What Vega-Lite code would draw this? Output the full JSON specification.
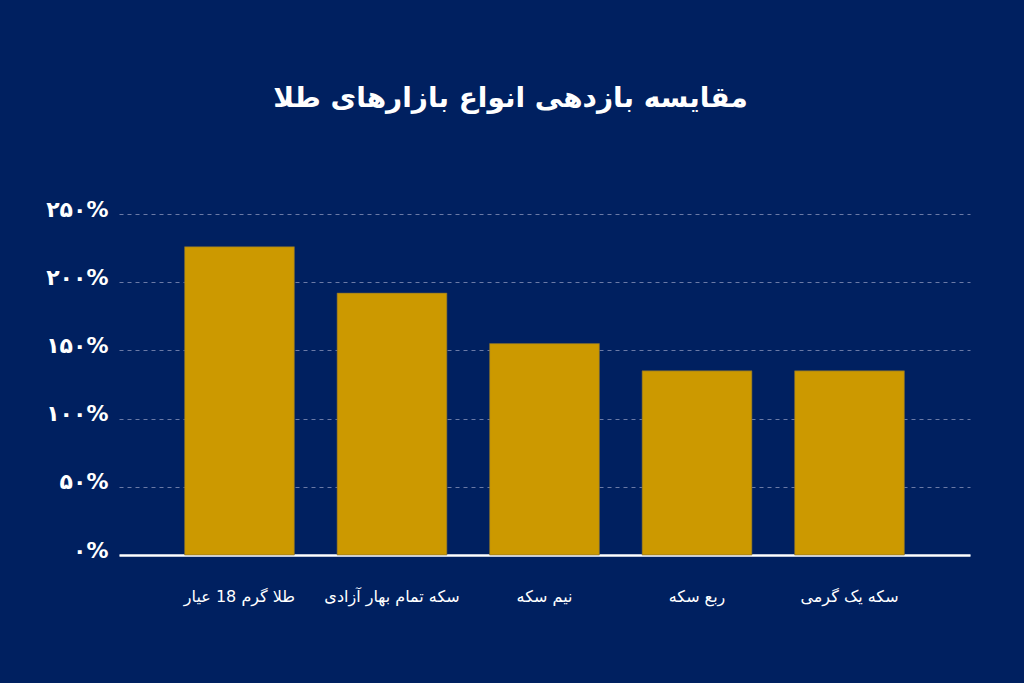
{
  "$schema": "https://vega.github.io/schema/vega-lite/v6.json",
  "width": 851,
  "height": 341,
  "autosize": "none",
  "padding": {"left": 119, "top": 214, "right": 54, "bottom": 128},
  "background": "#002060",
  "title": {
    "text": "مقایسه بازدهی انواع بازارهای طلا",
    "color": "#ffffff",
    "font": "DejaVu Sans",
    "fontSize": 28,
    "fontWeight": "bold",
    "anchor": "middle",
    "frame": "group",
    "dx": -34,
    "offset": 85
  },
  "data": {
    "values": [
      {"market": "طلا گرم 18 عیار", "return": 226},
      {"market": "سکه تمام بهار آزادی", "return": 192},
      {"market": "نیم سکه", "return": 155},
      {"market": "ربع سکه", "return": 135},
      {"market": "سکه یک گرمی", "return": 135}
    ]
  },
  "mark": {"type": "bar", "color": "#cc9900", "stroke": "#7a6a3a", "strokeWidth": 0.6},
  "encoding": {
    "x": {
      "field": "market",
      "type": "nominal",
      "sort": null,
      "scale": {"paddingInner": 0.28, "paddingOuter": 0.43},
      "axis": {
        "title": null,
        "labelAngle": 0,
        "labelColor": "#ffffff",
        "labelFont": "DejaVu Sans",
        "labelFontSize": 16,
        "labelPadding": 33,
        "ticks": false,
        "domainColor": "#ffffff",
        "domainWidth": 2.5,
        "grid": false
      }
    },
    "y": {
      "field": "return",
      "type": "quantitative",
      "scale": {"domain": [0, 250], "nice": false},
      "axis": {
        "title": null,
        "values": [0, 50, 100, 150, 200, 250],
        "labelExpr": "replace(replace(replace(replace(format(datum.value,'d'),regexp('0','g'),'۰'),regexp('1','g'),'۱'),regexp('2','g'),'۲'),regexp('5','g'),'۵') + '%'",
        "labelColor": "#ffffff",
        "labelFont": "DejaVu Sans",
        "labelFontSize": 22,
        "labelFontWeight": "bold",
        "labelPadding": 11,
        "labelOffset": -5,
        "ticks": false,
        "domain": false,
        "grid": true,
        "gridColor": "#6b7aa6",
        "gridDash": [4, 4],
        "gridWidth": 1
      }
    }
  },
  "config": {"view": {"stroke": null}}
}
